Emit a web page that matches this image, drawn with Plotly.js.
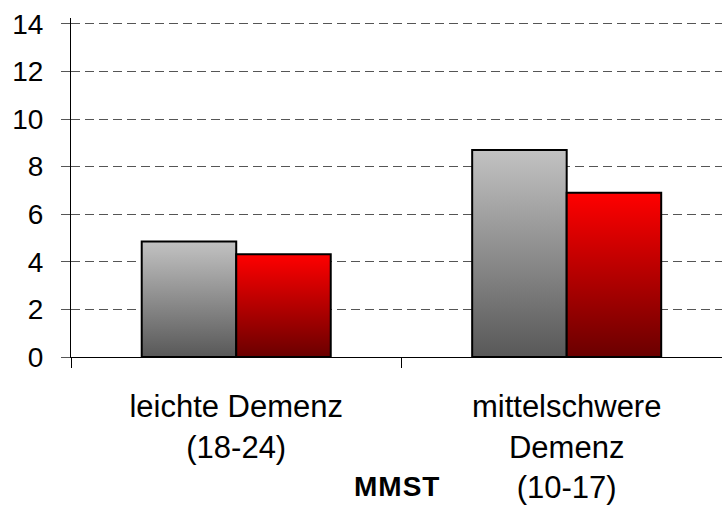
<!DOCTYPE html>
<html>
<head>
<meta charset="utf-8">
<script src="https://cdn.plot.ly/plotly-3.0.1.min.js"></script>
<style>
  html, body { margin: 0; padding: 0; background: #ffffff; }
  #chart { width: 722px; height: 505px; }
</style>
</head>
<body>
<div id="chart"></div>
<script>
// ---- data ----
const categories = ["leichte Demenz<br>(18-24)", "mittelschwere<br>Demenz<br>(10-17)"];
const seriesA = [4.85, 8.7];   // grey bars
const seriesB = [4.32, 6.9];   // red bars
const yTickValues = [0, 2, 4, 6, 8, 10, 12, 14];
const xAxisTitle = "MMST";

const font = "Liberation Sans, Arial, sans-serif";

const traces = [
  {
    type: "bar", name: "A", x: categories, y: seriesA,
    marker: { color: "#8c8c8c", line: { color: "#000000", width: 2 } },
    hoverinfo: "skip"
  },
  {
    type: "bar", name: "B", x: categories, y: seriesB,
    marker: { color: "#b00000", line: { color: "#000000", width: 2 } },
    hoverinfo: "skip"
  }
];

const layout = {
  width: 722, height: 505,
  margin: { l: 71, r: 0, t: 18, b: 148, pad: 0 },
  paper_bgcolor: "#ffffff", plot_bgcolor: "#ffffff",
  showlegend: false,
  hovermode: false,
  barmode: "group",
  bargap: 0.428, bargroupgap: 0,
  font: { family: font, color: "#000000" },
  xaxis: {
    type: "category",
    range: [-0.5, 1.47],
    showline: true, linecolor: "#000000", linewidth: 1,
    ticks: "outside", ticklen: 10, tickcolor: "#000000", tickwidth: 1,
    tickson: "boundaries",
    showgrid: false, zeroline: false,
    tickfont: { family: font, size: 31, color: "#000000" },
    ticklabelstandoff: 22
  },
  yaxis: {
    range: [0, 14.25],
    tickvals: yTickValues,
    showline: true, linecolor: "#000000", linewidth: 1,
    ticks: "outside", ticklen: 9, tickcolor: "#555555", tickwidth: 1,
    showgrid: true, gridcolor: "#555555", gridwidth: 1, griddash: "9px,5px",
    zeroline: false,
    tickfont: { family: font, size: 28, color: "#000000" },
    ticklabelstandoff: 12
  },
  annotations: [
    {
      text: "<b>" + xAxisTitle + "</b>",
      xref: "paper", yref: "paper",
      x: 0.5, y: -0.383,
      xanchor: "center", yanchor: "middle",
      showarrow: false,
      font: { family: font, size: 28, color: "#000000" }
    }
  ]
};

function applyGradients(gd) {
  const svg = gd.querySelector("svg.main-svg");
  if (!svg) return;
  let defs = svg.querySelector("defs");
  if (!defs) {
    defs = document.createElementNS("http://www.w3.org/2000/svg", "defs");
    svg.insertBefore(defs, svg.firstChild);
  }
  const grads = [
    { id: "gradA", top: "#c2c2c2", bottom: "#585858" },
    { id: "gradB", top: "#ff0000", bottom: "#6a0000" }
  ];
  grads.forEach(g => {
    if (defs.querySelector("#" + g.id)) return;
    const lg = document.createElementNS("http://www.w3.org/2000/svg", "linearGradient");
    lg.setAttribute("id", g.id);
    lg.setAttribute("x1", "0"); lg.setAttribute("y1", "0");
    lg.setAttribute("x2", "0"); lg.setAttribute("y2", "1");
    [["0", g.top], ["1", g.bottom]].forEach(([o, c]) => {
      const s = document.createElementNS("http://www.w3.org/2000/svg", "stop");
      s.setAttribute("offset", o);
      s.setAttribute("stop-color", c);
      lg.appendChild(s);
    });
    defs.appendChild(lg);
  });
  const traceGroups = gd.querySelectorAll("g.trace.bars");
  traceGroups.forEach((tg, i) => {
    const id = i === 0 ? "gradA" : "gradB";
    tg.querySelectorAll("g.point path").forEach(p => {
      p.style.fill = "url(#" + id + ")";
    });
  });
  // slight letter spacing on the bold axis title
  gd.querySelectorAll("g.annotation text").forEach(t => {
    t.style.letterSpacing = "1px";
  });
}

const gd = document.getElementById("chart");
Plotly.newPlot(gd, traces, layout, { displayModeBar: false, staticPlot: true }).then(() => {
  applyGradients(gd);
  gd.on("plotly_afterplot", () => applyGradients(gd));
});
</script>
</body>
</html>
